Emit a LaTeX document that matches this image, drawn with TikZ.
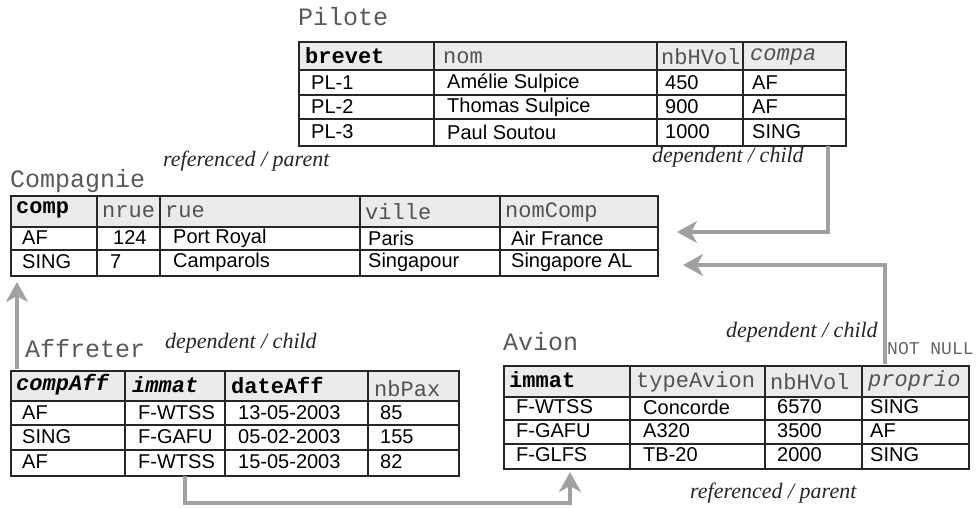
\documentclass[tikz,border=0pt]{standalone}
\usepackage{fontspec}
\setmainfont{Liberation Sans}
\newfontfamily\monof{Liberation Mono}
\newfontfamily\seriff{Liberation Serif}
\usetikzlibrary{arrows.meta}
\begin{document}
\begin{tikzpicture}[x=1pt,y=-1pt,
  grid/.style={draw=black!85,line width=1.6pt},
  tbl/.style={draw=black!85,line width=1.8pt,inner sep=0pt,anchor=north west},
  hdrfill/.style={fill=black!8},
  cell/.style={anchor=west,inner sep=0pt,font=\fontsize{20}{22}\selectfont},
  hd/.style={anchor=west,inner sep=0pt,font=\monof\fontsize{22}{24}\selectfont,text=black!68},
  hdk/.style={anchor=west,inner sep=0pt,font=\monof\bfseries\fontsize{22}{24}\selectfont,text=black},
  hdf/.style={anchor=west,inner sep=0pt,font=\monof\itshape\fontsize{22}{24}\selectfont,text=black!68},
  hdkf/.style={anchor=west,inner sep=0pt,font=\monof\bfseries\itshape\fontsize{22}{24}\selectfont,text=black},
  ttl/.style={anchor=west,inner sep=0pt,font=\monof\fontsize{25}{27}\selectfont,text=black!65},
  lbl/.style={anchor=west,inner sep=0pt,font=\seriff\itshape\fontsize{22}{24}\selectfont,text=black!85},
  nn/.style={anchor=west,inner sep=0pt,font=\monof\fontsize{18}{20}\selectfont,text=black!60},
  fk/.style={draw=black!37,line width=4pt,-{Stealth[length=20pt,width=22pt,inset=6pt]}}
]
\useasboundingbox (0,0) rectangle (979,507);

% ---------------- Pilote
\node[ttl] (tpil) at (298,17) {Pilote};
\fill[hdrfill] (298,41) rectangle (845,70);
\node[tbl,minimum width=547pt,minimum height=104pt] (pil) at (298,41) {};
\draw[grid] (298,70)--(845,70) (298,95)--(845,95) (298,119)--(845,119);
\draw[grid] (434,41)--(434,145) (657,41)--(657,145) (743,41)--(743,145);
\node[hdk] (ph1) at (305,56) {brevet};
\node[hd] (ph2) at (443,58) {nom};
\node[hd] (ph3) at (661,57) {nbHVol};
\node[hdf] (ph4) at (750,57) {compa};
\foreach \y/\a/\b/\c/\d [count=\i] in {83/PL-1/Amélie Sulpice/450/AF,107/PL-2/Thomas Sulpice/900/AF,132/PL-3/Paul Soutou/1000/SING}{
  \node[cell,name=pa\i] at (311,\y) {\a};
  \node[cell,name=pb\i] at (447,\y) {\b};
  \node[cell,name=pc\i] at (665,\y) {\c};
  \node[cell,name=pd\i] at (752,\y) {\d};
}

% ---------------- Compagnie
\node[ttl] (tcomp) at (10,181) {Compagnie};
\node[lbl] (lcomp) at (163,161) {referenced / parent};
\fill[hdrfill] (10,195) rectangle (657,227);
\node[tbl,minimum width=647pt,minimum height=80pt] (comp) at (10,195) {};
\draw[grid] (10,227)--(657,227) (10,250)--(657,250);
\draw[grid] (97,195)--(97,275) (160,195)--(160,275) (360,195)--(360,275) (500,195)--(500,275);
\node[hdk] (ch1) at (16,210) {comp};
\node[hd] (ch2) at (102,212) {nrue};
\node[hd] (ch3) at (165,212) {rue};
\node[hd] (ch4) at (365,212) {ville};
\node[hd] (ch5) at (505,212) {nomComp};
\foreach \y/\a/\b/\c/\d/\e/\bx [count=\i] in {238/AF/124/Port Royal/Paris/Air France/113,262/SING/7/Camparols/Singapour/Singapore AL/110}{
  \node[cell,name=ca\i] at (22,\y) {\a};
  \node[cell,name=cb\i] at (\bx,\y) {\b};
  \node[cell,name=cc\i] at (173,\y) {\c};
  \node[cell,name=cd\i] at (368,\y) {\d};
  \node[cell,name=ce\i] at (511,\y) {\e};
}
\node[lbl] (lpil) at (652,157) {dependent / child};

% ---------------- Affreter
\node[ttl] (taff) at (25,349) {Affreter};
\node[lbl] (laff) at (165,343) {dependent / child};
\fill[hdrfill] (10,370) rectangle (458,401);
\node[tbl,minimum width=448pt,minimum height=105pt] (aff) at (10,370) {};
\draw[grid] (10,401)--(458,401) (10,425)--(458,425) (10,450)--(458,450);
\draw[grid] (125,370)--(125,475) (225,370)--(225,475) (368,370)--(368,475);
\node[hdkf] (ah1) at (16,385) {compAff};
\node[hdkf] (ah2) at (132,385) {immat};
\node[hdk] (ah3) at (231,385) {dateAff};
\node[hd] (ah4) at (374,389) {nbPax};
\foreach \y/\a/\b/\c/\d [count=\i] in {413/AF/F-WTSS/13-05-2003/85,437/SING/F-GAFU/05-02-2003/155,462/AF/F-WTSS/15-05-2003/82}{
  \node[cell,name=aa\i] at (22,\y) {\a};
  \node[cell,name=ab\i] at (138,\y) {\b};
  \node[cell,name=ac\i] at (238,\y) {\c};
  \node[cell,name=ad\i] at (380,\y) {\d};
}

% ---------------- Avion
\node[ttl] (tav) at (503,342) {Avion};
\node[lbl] (lav) at (726,332) {dependent / child};
\node[nn] (nnull) at (887,349) {NOT NULL};
\node[lbl] (lavp) at (690,493) {referenced / parent};
\fill[hdrfill] (503,365) rectangle (968,397);
\node[tbl,minimum width=465pt,minimum height=103pt] (av) at (503,365) {};
\draw[grid] (503,397)--(968,397) (503,420)--(968,420) (503,444)--(968,444);
\draw[grid] (630,365)--(630,468) (765,365)--(765,468) (862,365)--(862,468);
\node[hdk] (vh1) at (509,380) {immat};
\node[hd] (vh2) at (636,382) {typeAvion};
\node[hd] (vh3) at (770,382) {nbHVol};
\node[hdf] (vh4) at (868,381) {proprio};
\foreach \y/\a/\b/\c/\d [count=\i] in {407/F-WTSS/Concorde/6570/SING,431/F-GAFU/A320/3500/AF,455/F-GLFS/TB-20/2000/SING}{
  \node[cell,name=va\i] at (516,\y) {\a};
  \node[cell,name=vb\i] at (643,\y) {\b};
  \node[cell,name=vc\i] at (777,\y) {\c};
  \node[cell,name=vd\i] at (870,\y) {\d};
}

% ---------------- connectors
\coordinate (f1s) at (828,146);
\coordinate (f1e) at (677,232);
\draw[fk] (f1s) |- (f1e);
\coordinate (f2s) at (885,364);
\coordinate (f2e) at (683,265);
\draw[fk] (f2s) |- (f2e);
\coordinate (f3s) at (17,369);
\coordinate (f3e) at (17,282);
\draw[fk] (f3s) -- (f3e);
\coordinate (f4s) at (185,476);
\coordinate (f4m) at (185,503);
\coordinate (f4e) at (570,472);
\draw[fk] (f4s) -- (f4m) -| (f4e);
\end{tikzpicture}
\end{document}
